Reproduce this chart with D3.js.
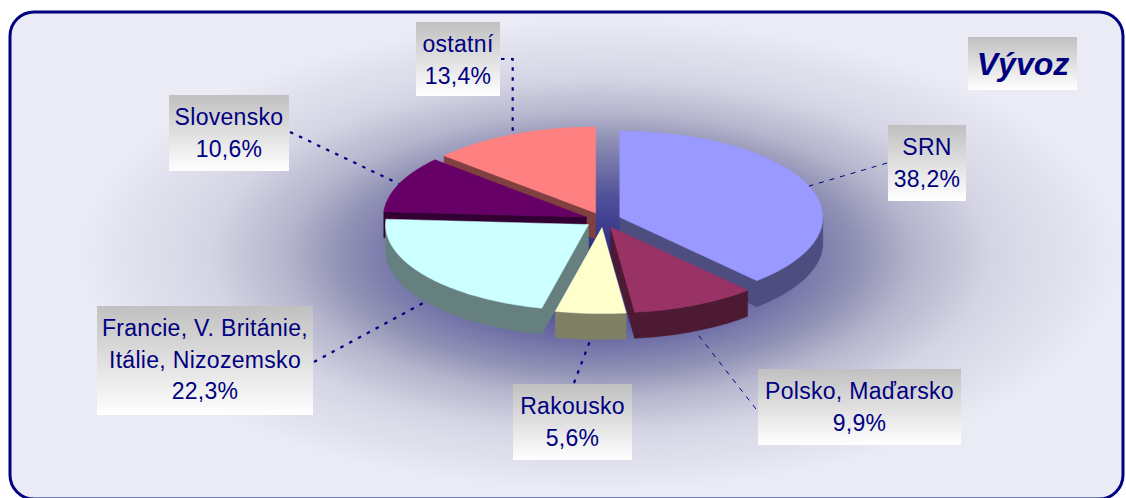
<!DOCTYPE html>
<html>
<head>
<meta charset="utf-8">
<script src="https://cdn.jsdelivr.net/npm/d3@7"></script>
<style>
  html, body { margin: 0; padding: 0; background: #ffffff; }
  svg { display: block; }
  text { font-family: "Liberation Sans", Arial, sans-serif; }
</style>
</head>
<body>
<div id="chart"></div>
<script>
// Data
var categories = ["SRN", "Polsko, Maďarsko", "Rakousko", "Francie, V. Británie,\nItálie, Nizozemsko", "Slovensko", "ostatní"];
var shares = [38.2, 9.9, 5.6, 22.3, 10.6, 13.4];
var sliceColors = ["#9999ff", "#993366", "#ffffcc", "#ccffff", "#660066", "#ff8080"];
var title = "Vývoz";

// Label boxes (layout only) and where their leader lines start
var labelBoxes = [
    {x: 888, y: 125, w: 78,  h: 76,  ax: 887, ay: 163, thin: true},
    {x: 758, y: 369, w: 203, h: 76,  ax: 756, ay: 409, thin: true},
    {x: 513, y: 384, w: 119, h: 76,  ax: 574, ay: 383, thin: false},
    {x: 97,  y: 306, w: 216, h: 109, ax: 314, ay: 362, thin: false},
    {x: 169, y: 95,  w: 120, h: 76,  ax: 290, ay: 132, thin: false},
    {x: 416, y: 22,  w: 84,  h: 74,  ax: 501, ay: 59,  thin: false, elbow: true}
];

var width = 1126;
var height = 498;

// Pie geometry
var cx = 603, cy = 220;   // centre of the top face
var R = 203;              // radius before tilt
var tilt = 0.4236;        // vertical squash
var depth = 26;           // thickness of the pie
var explode = 18;         // how far each slice is pulled out

var svg = d3.select("#chart").append("svg")
    .attr("width", width)
    .attr("height", height);

var defs = svg.append("defs");

// Background glow around the pie
var bg = defs.append("radialGradient")
    .attr("id", "bgGlow")
    .attr("gradientUnits", "userSpaceOnUse")
    .attr("cx", 0).attr("cy", 0).attr("r", 1)
    .attr("gradientTransform", "translate(600,255) scale(520,235)");
[[0, "#2a2a80"], [0.25, "#50509a"], [0.5, "#9292b6"], [0.6, "#b4b4cc"], [0.75, "#d4d4e4"], [1, "#ebebf5"]]
    .forEach(function(s) {
        bg.append("stop").attr("offset", s[0]).attr("stop-color", s[1]);
    });

// Label box fill
var boxGrad = defs.append("linearGradient")
    .attr("id", "boxFill")
    .attr("x1", 0).attr("y1", 0).attr("x2", 0).attr("y2", 1);
boxGrad.append("stop").attr("offset", 0).attr("stop-color", "#c0c0c0");
boxGrad.append("stop").attr("offset", 1).attr("stop-color", "#ffffff");

// Frame with rounded corners
svg.append("rect")
    .attr("x", 10).attr("y", 12)
    .attr("width", 1113).attr("height", 487)
    .attr("rx", 24).attr("ry", 24)
    .style("fill", "url(#bgGlow)")
    .style("stroke", "#000080")
    .style("stroke-width", 3);

// Point on the rim (or centre when r = 0) of an exploded slice
function pt(a, r, ox, oy, dz) {
    return [cx + ox + r * Math.sin(a), cy + oy - tilt * r * Math.cos(a) + (dz || 0)];
}

function arcPts(a0, a1, ox, oy, dz) {
    var n = Math.max(2, Math.ceil((a1 - a0) / 0.02));
    return d3.range(n + 1).map(function(i) {
        return pt(a0 + (a1 - a0) * i / n, R, ox, oy, dz);
    });
}

function halfColor(c) {
    var col = d3.rgb(c);
    return d3.rgb(col.r / 2, col.g / 2, col.b / 2).formatHex();
}

var lineGen = d3.line();
function shapePath(pts) { return lineGen(pts) + "Z"; }

var arcs = d3.pie().sort(null).value(function(d) { return d; })(shares);
arcs.forEach(function(d, i) {
    d.mid = (d.startAngle + d.endAngle) / 2;
    d.ox = explode * Math.sin(d.mid);
    d.oy = -explode * tilt * Math.cos(d.mid);
    d.color = sliceColors[i];
    d.index = i;
});

// Draw from back to front
var order = arcs.slice().sort(function(a, b) {
    return Math.cos(b.mid) - Math.cos(a.mid);
});

var pieGroup = svg.append("g");

order.forEach(function(d) {
    var g = pieGroup.append("g");
    var side = halfColor(d.color);
    var apex = pt(0, 0, d.ox, d.oy, 0);
    var apexLow = pt(0, 0, d.ox, d.oy, depth);

    // cut face on the start edge
    if (Math.sin(d.startAngle) < -1e-6) {
        var r0 = pt(d.startAngle, R, d.ox, d.oy, 0);
        var r0l = pt(d.startAngle, R, d.ox, d.oy, depth);
        g.append("path").attr("d", shapePath([apex, r0, r0l, apexLow]))
            .style("fill", side).style("stroke", side).style("stroke-width", 0.5);
    }
    // cut face on the end edge
    if (Math.sin(d.endAngle) > 1e-6) {
        var r1 = pt(d.endAngle, R, d.ox, d.oy, 0);
        var r1l = pt(d.endAngle, R, d.ox, d.oy, depth);
        g.append("path").attr("d", shapePath([apex, r1, r1l, apexLow]))
            .style("fill", side).style("stroke", side).style("stroke-width", 0.5);
    }
    // outer wall, only the part facing us
    var v0 = Math.max(d.startAngle, Math.PI / 2);
    var v1 = Math.min(d.endAngle, 3 * Math.PI / 2);
    if (v1 > v0) {
        var wall = arcPts(v0, v1, d.ox, d.oy, 0)
            .concat(arcPts(v0, v1, d.ox, d.oy, depth).reverse());
        g.append("path").attr("d", shapePath(wall))
            .style("fill", side).style("stroke", side).style("stroke-width", 0.5);
    }
    // top face
    var face = [apex].concat(arcPts(d.startAngle, d.endAngle, d.ox, d.oy, 0));
    g.append("path").attr("d", shapePath(face))
        .style("fill", d.color).style("stroke", d.color).style("stroke-width", 0.5);
});

// Leader lines
var fmt = d3.format(".1f");
arcs.forEach(function(d, i) {
    var box = labelBoxes[i];
    var front = Math.cos(d.mid) < 0;
    var end = pt(d.mid, R, d.ox, d.oy, front ? depth : 0);
    var pts = [[box.ax, box.ay]];
    if (box.elbow) pts.push([end[0], box.ay]);
    pts.push(end);
    svg.append("path")
        .attr("d", lineGen(pts))
        .style("fill", "none")
        .style("stroke", "#000080")
        .style("stroke-width", box.thin ? 1 : 2.2)
        .style("stroke-dasharray", box.thin ? "5,6" : "3.5,6.5");
});

// Labels
arcs.forEach(function(d, i) {
    var box = labelBoxes[i];
    var lines = categories[i].split("\n").concat([fmt(shares[i]).replace(".", ",") + "%"]);
    var g = svg.append("g");
    g.append("rect")
        .attr("x", box.x).attr("y", box.y)
        .attr("width", box.w).attr("height", box.h)
        .style("fill", "url(#boxFill)");
    g.selectAll("text")
        .data(lines)
        .enter().append("text")
        .attr("x", box.x + box.w / 2)
        .attr("y", function(t, j) { return box.y + 30 + j * 31.5; })
        .attr("text-anchor", "middle")
        .style("font-size", "23px")
        .style("letter-spacing", "0.3px")
        .style("fill", "#000080")
        .text(function(t) { return t; });
});

// Title
svg.append("rect")
    .attr("x", 968).attr("y", 37)
    .attr("width", 109).attr("height", 53)
    .style("fill", "url(#boxFill)");
svg.append("text")
    .attr("x", 1023).attr("y", 75)
    .attr("text-anchor", "middle")
    .style("font-size", "32px")
    .style("font-weight", "bold")
    .style("font-style", "italic")
    .style("fill", "#000080")
    .text(title);
</script>
</body>
</html>
